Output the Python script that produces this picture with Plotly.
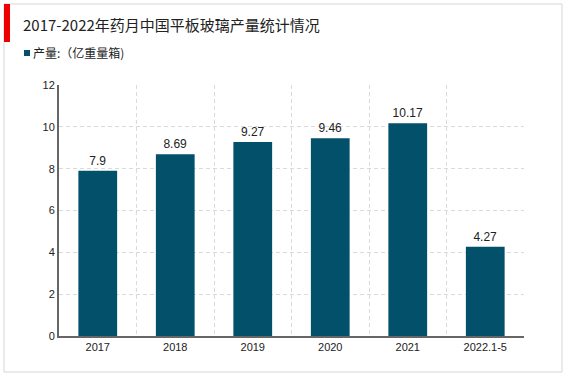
import plotly.graph_objects as go

categories = ["2017", "2018", "2019", "2020", "2021", "2022.1-5"]
values = [7.9, 8.69, 9.27, 9.46, 10.17, 4.27]
value_labels = ["7.9", "8.69", "9.27", "9.46", "10.17", "4.27"]
y_ticks = [0, 2, 4, 6, 8, 10, 12]

W, H = 567, 378
L, R, T, B = 59, 43, 85, 42
pw, ph = W - L - R, H - T - B

def px(x):
    return (x - L) / pw

def py(y):
    return (H - B - y) / ph

xs = list(range(len(categories)))

fig = go.Figure()
fig.add_trace(go.Bar(
    x=xs, y=values, width=0.5,
    marker=dict(color="#03506b", line=dict(width=0)),
    text=value_labels, textposition="outside",
    textfont=dict(family="Liberation Sans, Arial", size=12, color="#222"),
    cliponaxis=False, showlegend=False,
))

fig.update_layout(
    width=W, height=H,
    margin=dict(l=L, r=R, t=T, b=B),
    paper_bgcolor="white", plot_bgcolor="white",
    font=dict(family="Liberation Sans, Arial", size=11, color="#222"),
    xaxis=dict(
        range=[-0.5, len(categories) - 0.5],
        tickvals=xs, ticktext=categories,
        showgrid=False, zeroline=False,
        showline=True, linecolor="#666", linewidth=2,
        ticks="", tickfont=dict(size=11),
        minor=dict(tick0=0.5, dtick=1, showgrid=True, gridcolor="#dadada",
                   griddash="4px,3px", gridwidth=1, ticks=""),
        fixedrange=True,
    ),
    yaxis=dict(
        range=[0, 12], tickvals=y_ticks,
        showgrid=True, gridcolor="#dadada", griddash="4px,3px", gridwidth=1,
        zeroline=False, showline=True, linecolor="#666", linewidth=2,
        ticks="", ticklen=0, tickfont=dict(size=11),
        fixedrange=True,
    ),
    shapes=[
        dict(type="rect", xref="paper", yref="paper",
             x0=px(4), x1=px(562), y0=py(372), y1=py(4),
             line=dict(color="#d6d6d6", width=1), fillcolor="rgba(0,0,0,0)", layer="below"),
        dict(type="rect", xref="paper", yref="paper",
             x0=px(4), x1=px(10), y0=py(42), y1=py(4),
             line=dict(width=0), fillcolor="#ee0000"),
        dict(type="rect", xref="paper", yref="paper",
             x0=px(24), x1=px(30), y0=py(56), y1=py(50),
             line=dict(width=0), fillcolor="#03506b"),
    ],
    annotations=[
        dict(text="2017-2022年药月中国平板玻璃产量统计情况", xref="paper", yref="paper",
             x=px(21), y=py(24), xanchor="left", yanchor="middle", showarrow=False,
             font=dict(family="Noto Sans CJK SC", size=15, color="#222")),
        dict(text="产量:（亿重量箱)", xref="paper", yref="paper",
             x=px(31), y=py(53), xanchor="left", yanchor="middle", showarrow=False,
             font=dict(family="Noto Sans CJK SC", size=12, color="#222")),
    ],
)

fig.write_html("out.html", config={"displayModeBar": False},
               post_script="document.body.style.margin='0';document.body.style.overflow='hidden';")
